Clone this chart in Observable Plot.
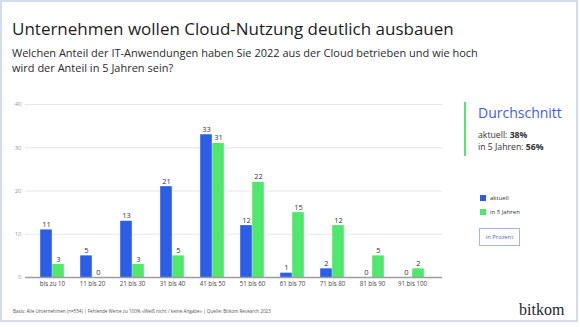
<!DOCTYPE html>
<html><head><meta charset="utf-8">
<script src="https://cdn.jsdelivr.net/npm/d3@7"></script>
<script src="https://cdn.jsdelivr.net/npm/@observablehq/plot@0.6"></script>
<style>
html,body{margin:0;padding:0;background:#fff;}
#wrap{position:relative;width:580px;height:327px;overflow:hidden;font-family:"Open Sans",sans-serif;color:#222;}
#frame{position:absolute;left:0;top:0;width:578px;height:322px;border:2px solid #d3dcec;box-sizing:border-box;}
.abs{position:absolute;white-space:nowrap;}
#title{left:12px;top:20px;font-size:17px;line-height:17px;font-weight:500;color:#1d1d1d;}
#sub{left:12px;top:45px;font-size:11px;line-height:15px;color:#2a2a2a;}
#chart{position:absolute;left:0;top:95px;}
#avgline{position:absolute;left:464px;top:102px;width:2px;height:54px;background:#52e86b;}
#avgt{left:478px;top:105px;font-size:14px;line-height:16px;color:#3d5fd6;}
#avg1{left:478px;top:129px;font-size:8.7px;line-height:12px;color:#333;}
.leg{position:absolute;left:480px;font-size:6px;line-height:8px;color:#333;display:flex;align-items:center;}
.leg i{display:inline-block;width:6px;height:6px;margin-right:4px;}
#unit{left:479px;top:228px;width:41px;height:18px;border:1px solid #a8b4e4;box-sizing:border-box;font-size:5.8px;line-height:16px;text-align:center;color:#4a64d0;}
#foot{left:13px;top:308px;font-size:4.6px;line-height:6px;color:#555;}
#logo{left:519px;top:300px;font-family:"Liberation Serif",serif;font-size:16px;line-height:20px;color:#1e1e2a;}
</style></head>
<body>
<div id="wrap">
<div id="frame"></div>
<div class="abs" id="title">Unternehmen wollen Cloud-Nutzung deutlich ausbauen</div>
<div class="abs" id="sub">Welchen Anteil der IT-Anwendungen haben Sie 2022 aus der Cloud betrieben und wie hoch<br>wird der Anteil in 5 Jahren sein?</div>
<div id="chart"></div>
<div id="avgline"></div>
<div class="abs" id="avgt">Durchschnitt</div>
<div class="abs" id="avg1"></div>
<div id="legend"></div>
<div class="abs" id="unit">in Prozent</div>
<div class="abs" id="foot">Basis: Alle Unternehmen (n=554) | Fehlende Werte zu 100% «Weiß nicht / keine Angabe» | Quelle: Bitkom Research 2023</div>
<div class="abs" id="logo">bitkom</div>
</div>
<script>
const categories = ["bis zu 10","11 bis 20","21 bis 30","31 bis 40","41 bis 50","51 bis 60","61 bis 70","71 bis 80","81 bis 90","91 bis 100"];
const aktuell = [11,5,13,21,33,12,1,2,0,0];
const in5Jahren = [3,0,3,5,31,22,15,12,5,2];
const seriesNames = ["aktuell","in 5 Jahren"];
const seriesColors = ["#2b5de6","#50e86c"];
const yTicks = [0,10,20,30,40];
const avgLabels = ["aktuell: ","in 5 Jahren: "];
const avgValues = ["38%","56%"];

const dA = categories.map((c,i)=>({cat:c, v:aktuell[i]}));
const dB = categories.map((c,i)=>({cat:c, v:in5Jahren[i]}));
const inset = 14.2, off = 6;

const plot = Plot.plot({
  width: 450, height: 200,
  marginLeft: 25, marginRight: 8, marginTop: 9, marginBottom: 18,
  style: {fontFamily: "'Open Sans', sans-serif", background: "transparent"},
  x: {domain: categories, range: [29.8, 434.2], padding: 0, label: null},
  y: {domain: [0,40], label: null},
  marks: [
    Plot.ruleY(yTicks.filter(t=>t>0), {stroke: "#e6e6e6", strokeWidth: 1}),
    Plot.axisY({ticks: yTicks, tickSize: 0, tickPadding: 4, fontSize: 6, fill: "#9a9a9a", label: null}),
    Plot.axisX({tickSize: 0, tickPadding: 4, fontSize: 6.2, fill: "#444", label: null}),
    Plot.barY(dA, {x: "cat", y: "v", fill: seriesColors[0], insetLeft: inset, insetRight: inset, dx: -off}),
    Plot.barY(dB, {x: "cat", y: "v", fill: seriesColors[1], insetLeft: inset, insetRight: inset, dx: off}),
    Plot.ruleY([0], {stroke: "#9d9d9d", strokeWidth: 1.3}),
    Plot.text(dA, {x: "cat", y: "v", text: d=>String(d.v), dx: -off, dy: -3, lineAnchor: "bottom", fontSize: 7.5, fill: "#333"}),
    Plot.text(dB, {x: "cat", y: "v", text: d=>String(d.v), dx: off, dy: -3, lineAnchor: "bottom", fontSize: 7.5, fill: "#333"})
  ]
});
document.getElementById("chart").appendChild(plot);

document.getElementById("avg1").innerHTML = avgLabels.map((l,i)=>l+"<b>"+avgValues[i]+"</b>").join("<br>");
const leg = document.getElementById("legend");
seriesNames.forEach((n,i)=>{
  const el = document.createElement("div");
  el.className = "leg";
  el.style.top = (193.5 + i*14) + "px";
  el.innerHTML = `<i style="background:${seriesColors[i]}"></i>${n}`;
  leg.appendChild(el);
});
</script>
</body></html>
